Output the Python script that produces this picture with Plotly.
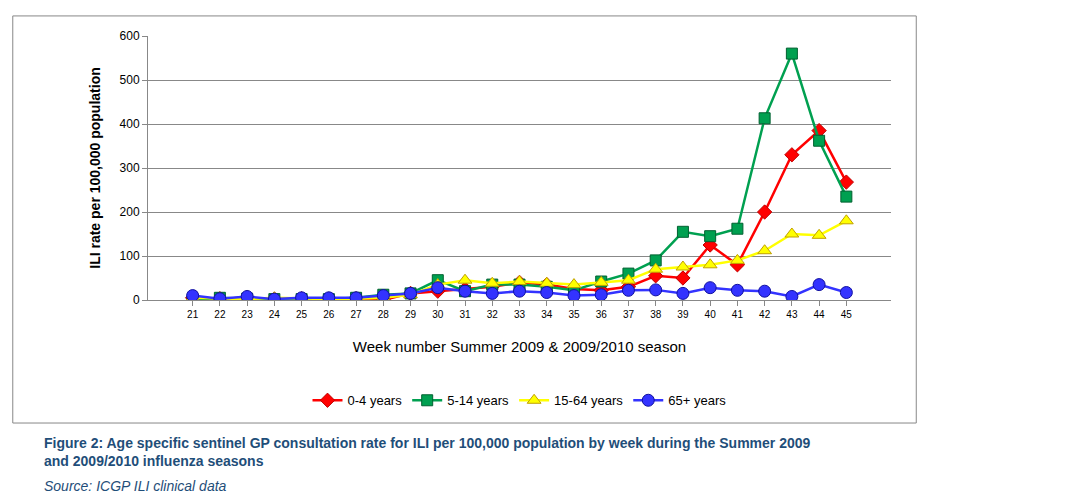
import plotly.graph_objects as go

weeks = [str(w) for w in range(21, 46)]
age_0_4 = [5, 3, 5, 2, 3, 2, 3, 0, 15, 20, 25, 30, 40, 35, 25, 22, 30, 55, 50, 125, 80, 200, 330, 385, 268]
age_5_14 = [0, 5, 3, 2, 2, 2, 5, 12, 15, 45, 20, 35, 35, 30, 22, 42, 60, 90, 155, 145, 162, 413, 560, 362, 235]
age_15_64 = [5, 3, 2, 5, 3, 2, 3, 5, 12, 35, 45, 38, 42, 38, 35, 40, 45, 70, 75, 80, 90, 112, 150, 147, 180]
age_65 = [10, 3, 8, 2, 5, 5, 5, 10, 15, 28, 20, 15, 20, 17, 10, 12, 22, 23, 15, 28, 22, 20, 8, 35, 17]

fig = go.Figure()
fig.add_trace(go.Scatter(x=weeks, y=age_0_4, name="0-4 years", mode="lines+markers",
                         line=dict(color="#ff0000", width=2.5),
                         marker=dict(symbol="diamond", size=11, color="#ff0000", line=dict(color="#c00000", width=1))))
fig.add_trace(go.Scatter(x=weeks, y=age_5_14, name="5-14 years", mode="lines+markers",
                         line=dict(color="#00a050", width=2.5),
                         marker=dict(symbol="square", size=11, color="#00a050", line=dict(color="#006030", width=1))))
fig.add_trace(go.Scatter(x=weeks, y=age_15_64, name="15-64 years", mode="lines+markers",
                         line=dict(color="#ffff00", width=2.5),
                         marker=dict(symbol="triangle-up", size=12, color="#ffff00", line=dict(color="#c0a000", width=1))))
fig.add_trace(go.Scatter(x=weeks, y=age_65, name="65+ years", mode="lines+markers",
                         line=dict(color="#3333ff", width=2.5),
                         marker=dict(symbol="circle", size=12, color="#3333ff", line=dict(color="#1010a0", width=1))))

fig.update_layout(
    width=1081, height=504,
    paper_bgcolor="white", plot_bgcolor="white",
    font=dict(family="Liberation Sans, Arial", color="black"),
    margin=dict(l=140, r=198, t=28, b=212),
    showlegend=True,
    legend=dict(orientation="h", x=0.5, xanchor="center", y=-0.38, yanchor="middle",
                font=dict(size=13)),
    xaxis=dict(title=dict(text="Week number Summer 2009 & 2009/2010 season", font=dict(size=15), standoff=22),
               tickfont=dict(size=10), showline=True, linecolor="#888", ticks="outside",
               tickcolor="#888", showgrid=False),
    yaxis=dict(title=dict(text="<b>ILI rate per 100,000 population</b>", font=dict(size=14)),
               range=[0, 600], dtick=100, tickfont=dict(size=12), showline=True,
               linecolor="#888", gridcolor="#888", ticks="outside", tickcolor="#888"),
    shapes=[dict(type="rect", xref="paper", yref="paper", x0=-0.182, x1=1.034, y0=-0.466, y1=1.076,
                 line=dict(color="#888", width=1))],
    annotations=[
        dict(xref="paper", yref="paper", x=-0.143, y=-0.505, xanchor="left", yanchor="top", align="left",
             showarrow=False, font=dict(size=14, color="#1f4e79"),
             text="<b>Figure 2: Age specific sentinel GP consultation rate for ILI per 100,000 population by week during the Summer 2009<br>and 2009/2010 influenza seasons</b>"),
        dict(xref="paper", yref="paper", x=-0.143, y=-0.665, xanchor="left", yanchor="top",
             showarrow=False, font=dict(size=14, color="#1f4e79"), text="<i>Source: ICGP ILI clinical data</i>"),
    ],
)

fig.write_html("out.html")
